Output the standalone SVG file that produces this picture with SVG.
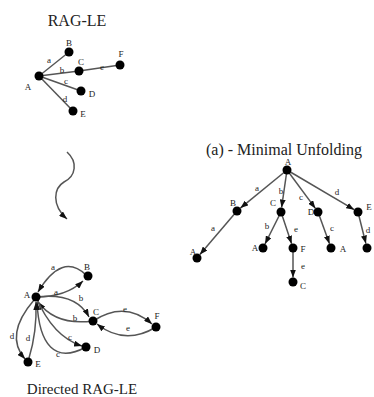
<svg xmlns="http://www.w3.org/2000/svg" width="374" height="397" viewBox="0 0 374 397">
<defs>
<marker id="arr" markerWidth="8" markerHeight="6" refX="8" refY="3" orient="auto" markerUnits="userSpaceOnUse">
<path d="M0,0 L8,3 L0,6 z" fill="#111"/>
</marker>
<style>
.e{stroke:#555;stroke-width:1.5;fill:none}
.a{marker-end:url(#arr)}
.n{fill:#000}
.t{font-family:"Liberation Serif","Times New Roman",serif;fill:#222;text-anchor:middle}
.l{font-size:9px}
.h{font-size:16px}
</style>
</defs>
<rect width="374" height="397" fill="#fff"/>

<!-- Titles -->
<text class="t h" x="77" y="26">RAG-LE</text>
<text class="t h" x="284" y="155">(a) - Minimal Unfolding</text>
<text class="t" x="82" y="394" font-size="15">Directed RAG-LE</text>

<!-- Connectors -->
<g id="connectors">
<!-- top RAG-LE -->
<line class="e" x1="39" y1="76" x2="69" y2="52"/>
<line class="e" x1="39" y1="76" x2="79" y2="71"/>
<line class="e" x1="79" y1="71" x2="120" y2="65"/>
<line class="e" x1="39" y1="76" x2="81" y2="91"/>
<line class="e" x1="39" y1="76" x2="73" y2="111"/>
<!-- curly arrow -->
<path class="e a" d="M67,152 C78,162 76,176 64,182 C54,188 51,205 67,219"/>
<!-- unfolding tree -->
<line class="e a" x1="287" y1="170" x2="240.4" y2="208.1"/>
<line class="e a" x1="287" y1="170" x2="281.6" y2="207.5"/>
<line class="e a" x1="287" y1="170" x2="315.4" y2="208.4"/>
<line class="e a" x1="287" y1="170" x2="354.2" y2="209.7"/>
<line class="e a" x1="237" y1="211" x2="199.9" y2="254.6"/>
<line class="e a" x1="281" y1="212" x2="265" y2="244"/>
<line class="e a" x1="281" y1="212" x2="291.6" y2="243.7"/>
<line class="e a" x1="318" y1="212" x2="329.5" y2="243.8"/>
<line class="e a" x1="358" y1="212" x2="365.9" y2="243.6"/>
<line class="e a" x1="293" y1="248" x2="293" y2="277.5"/>
<!-- directed RAG-LE -->
<path class="e a" d="M86,275 Q62,252 38,292"/>
<path class="e a" d="M36,297 Q66,297 83,281"/>
<path class="e a" d="M36,297 Q76,292 89,317"/>
<path class="e a" d="M93,321 Q56,326 38,302"/>
<path class="e a" d="M93,321 Q125,300 152,324"/>
<path class="e a" d="M156,327 Q125,346 97,324"/>
<path class="e a" d="M36,297 Q53,337 82,346"/>
<path class="e a" d="M86,347 C55,364 39,345 37,302"/>
<path class="e a" d="M34,300 Q4,335 25,359"/>
<path class="e a" d="M29,358 Q37,332 36,302"/>
</g>

<!-- RAG-LE nodes -->
<g id="top-A"><circle class="n" cx="39" cy="76" r="4.5"/><text class="t l" x="28" y="90">A</text></g>
<g id="top-B"><circle class="n" cx="69" cy="52" r="4.5"/><text class="t l" x="69" y="46">B</text></g>
<g id="top-C"><circle class="n" cx="79" cy="71" r="4.5"/><text class="t l" x="81" y="65">C</text></g>
<g id="top-F"><circle class="n" cx="120" cy="65" r="4.5"/><text class="t l" x="121" y="57">F</text></g>
<g id="top-D"><circle class="n" cx="81" cy="91" r="4.5"/><text class="t l" x="92" y="97">D</text></g>
<g id="top-E"><circle class="n" cx="73" cy="111" r="4.5"/><text class="t l" x="83" y="117">E</text></g>
<g id="top-labels">
<text class="t l" x="49" y="63">a</text>
<text class="t l" x="62" y="73">b</text>
<text class="t l" x="102" y="70">e</text>
<text class="t l" x="66" y="84">c</text>
<text class="t l" x="65" y="102">d</text>
</g>

<!-- Unfolding nodes -->
<g id="u-A"><circle class="n" cx="287" cy="170" r="4.5"/><text class="t l" x="288" y="165">A</text></g>
<g id="u-B"><circle class="n" cx="237" cy="211" r="4.5"/><text class="t l" x="233" y="206">B</text></g>
<g id="u-C"><circle class="n" cx="281" cy="212" r="4.5"/><text class="t l" x="273" y="206">C</text></g>
<g id="u-D"><circle class="n" cx="318" cy="212" r="4.5"/><text class="t l" x="311" y="215">D</text></g>
<g id="u-E"><circle class="n" cx="358" cy="212" r="4.5"/><text class="t l" x="369" y="210">E</text></g>
<g id="u-BA"><circle class="n" cx="197" cy="258" r="4.5"/><text class="t l" x="193" y="255">A</text></g>
<g id="u-CA"><circle class="n" cx="263" cy="248" r="4.5"/><text class="t l" x="255" y="251">A</text></g>
<g id="u-CF"><circle class="n" cx="293" cy="248" r="4.5"/><text class="t l" x="303" y="252">F</text></g>
<g id="u-DA"><circle class="n" cx="331" cy="248" r="4.5"/><text class="t l" x="343" y="252">A</text></g>
<g id="u-EA"><circle class="n" cx="367" cy="248" r="4.5"/></g>
<g id="u-FC"><circle class="n" cx="293" cy="282" r="4.5"/><text class="t l" x="303" y="289">C</text></g>
<g id="u-labels">
<text class="t l" x="257" y="191">a</text>
<text class="t l" x="281" y="194">b</text>
<text class="t l" x="301" y="200">c</text>
<text class="t l" x="337" y="195">d</text>
<text class="t l" x="213" y="231">a</text>
<text class="t l" x="267" y="229">b</text>
<text class="t l" x="296" y="232">e</text>
<text class="t l" x="332" y="231">c</text>
<text class="t l" x="368" y="233">d</text>
<text class="t l" x="303" y="269">e</text>
</g>

<!-- Directed RAG-LE nodes -->
<g id="d-A"><circle class="n" cx="36" cy="297" r="4.5"/><text class="t l" x="27" y="298">A</text></g>
<g id="d-B"><circle class="n" cx="88" cy="276" r="4.5"/><text class="t l" x="87" y="270">B</text></g>
<g id="d-C"><circle class="n" cx="93" cy="321" r="4.5"/><text class="t l" x="96" y="315">C</text></g>
<g id="d-F"><circle class="n" cx="156" cy="327" r="4.5"/><text class="t l" x="157" y="319">F</text></g>
<g id="d-D"><circle class="n" cx="86" cy="347" r="4.5"/><text class="t l" x="97" y="353">D</text></g>
<g id="d-E"><circle class="n" cx="28" cy="362" r="4.5"/><text class="t l" x="38" y="367">E</text></g>
<g id="d-labels">
<text class="t l" x="53" y="270">a</text>
<text class="t l" x="56" y="295">a</text>
<text class="t l" x="81" y="301">b</text>
<text class="t l" x="75" y="321">b</text>
<text class="t l" x="125" y="312">e</text>
<text class="t l" x="128" y="331">e</text>
<text class="t l" x="70" y="340">c</text>
<text class="t l" x="58" y="357">c</text>
<text class="t l" x="12" y="339">d</text>
<text class="t l" x="28" y="341">d</text>
</g>
</svg>
